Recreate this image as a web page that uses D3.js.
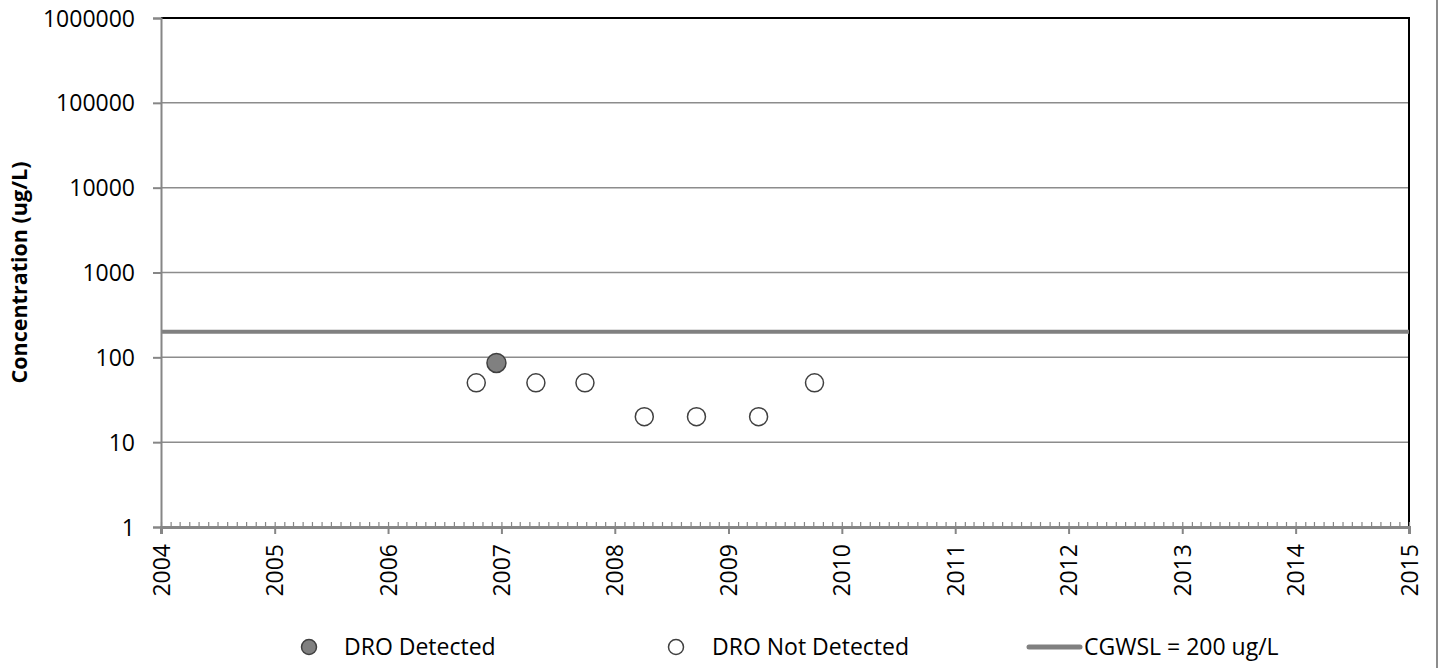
<!DOCTYPE html>
<html>
<head>
<meta charset="utf-8">
<script src="https://d3js.org/d3.v7.min.js"></script>
<style>
  body { margin: 0; background: #fff; }
  text { font-family: "Open Sans", sans-serif; fill: #000; }
</style>
</head>
<body>
<div id="chart"></div>
<script>
// DRO concentration chart

// Data
var detectedDates = ["2006-12-16"];
var detectedValues = [86];
var notDetectedDates = ["2006-10-12", "2007-04-22", "2007-09-27", "2008-04-05", "2008-09-20", "2009-04-08", "2009-10-05"];
var notDetectedValues = [50, 50, 50, 20, 20, 20, 50];
var cgwslValue = 200;
var yTickValues = [1, 10, 100, 1000, 10000, 100000, 1000000];
var legendLabels = ["DRO Detected", "DRO Not Detected", "CGWSL = 200 ug/L"];

var svgWidth = 1441;
var svgHeight = 668;

var margin = { top: 18, right: 32, bottom: 141, left: 161 };
var width = svgWidth - margin.left - margin.right;
var height = svgHeight - margin.top - margin.bottom;

var parseDate = d3.timeParse("%Y-%m-%d");

var svg = d3.select("#chart")
  .append("svg")
  .attr("width", svgWidth)
  .attr("height", svgHeight);

var chartGroup = svg.append("g")
  .attr("transform", `translate(${margin.left}, ${margin.top})`);

var xScale = d3.scaleTime()
  .domain([new Date(2004, 0, 1), new Date(2015, 0, 1)])
  .range([0, width]);

var yScale = d3.scaleLog()
  .domain([1, 1000000])
  .range([height, 0]);

// gridlines
chartGroup.selectAll(".grid")
  .data(yTickValues.slice(1, -1))
  .enter()
  .append("line")
  .attr("x1", 0)
  .attr("x2", width)
  .attr("y1", d => yScale(d))
  .attr("y2", d => yScale(d))
  .attr("stroke", "#8c8c8c")
  .attr("stroke-width", 1.5);

// top and right border
chartGroup.append("path")
  .attr("d", `M0,${yScale(1000000)}H${width}V${height}`)
  .attr("fill", "none")
  .attr("stroke", "#000")
  .attr("stroke-width", 2);

// CGWSL line
chartGroup.append("line")
  .attr("x1", 0)
  .attr("x2", width)
  .attr("y1", yScale(cgwslValue))
  .attr("y2", yScale(cgwslValue))
  .attr("stroke", "#808080")
  .attr("stroke-width", 4);

// Y axis
var leftAxis = d3.axisLeft(yScale)
  .tickValues(yTickValues)
  .tickFormat(d3.format("d"))
  .tickSize(8)
  .tickPadding(18);

var yAxisG = chartGroup.append("g").call(leftAxis);
yAxisG.select(".domain").attr("stroke", "#868686").attr("stroke-width", 2);
yAxisG.selectAll(".tick line").attr("stroke", "#868686").attr("stroke-width", 2);
yAxisG.selectAll(".tick text")
  .style("font-size", "23px")
  .attr("dy", "0.35em");

// X axis minor ticks (monthly, inside)
var minorAxis = d3.axisTop(xScale)
  .ticks(d3.timeMonth.every(1))
  .tickSize(5)
  .tickFormat("");

var minorG = chartGroup.append("g")
  .attr("transform", `translate(0, ${height})`)
  .call(minorAxis);
minorG.select(".domain").remove();
minorG.selectAll(".tick line").attr("stroke", "#868686").attr("stroke-width", 1.2);

// X axis major
var bottomAxis = d3.axisBottom(xScale)
  .ticks(d3.timeYear.every(1))
  .tickFormat(d3.timeFormat("%Y"))
  .tickSize(7)
  .tickPadding(10);

var xAxisG = chartGroup.append("g")
  .attr("transform", `translate(0, ${height})`)
  .call(bottomAxis);
xAxisG.select(".domain").attr("stroke", "#868686").attr("stroke-width", 3);
xAxisG.selectAll(".tick line").attr("stroke", "#868686").attr("stroke-width", 2);
xAxisG.selectAll(".tick text")
  .style("font-size", "23px")
  .attr("transform", "rotate(-90)")
  .attr("text-anchor", "end")
  .attr("x", -17)
  .attr("y", 0)
  .attr("dy", "0.35em");

// points
var notDetected = notDetectedDates.map((d, i) => ({ date: parseDate(d), value: notDetectedValues[i] }));
var detected = detectedDates.map((d, i) => ({ date: parseDate(d), value: detectedValues[i] }));

chartGroup.selectAll(".nd")
  .data(notDetected)
  .enter()
  .append("circle")
  .attr("cx", d => xScale(d.date))
  .attr("cy", d => yScale(d.value))
  .attr("r", 9)
  .attr("fill", "#fff")
  .attr("stroke", "#404040")
  .attr("stroke-width", 1.5);

chartGroup.selectAll(".det")
  .data(detected)
  .enter()
  .append("circle")
  .attr("cx", d => xScale(d.date))
  .attr("cy", d => yScale(d.value))
  .attr("r", 9.5)
  .attr("fill", "#808080")
  .attr("stroke", "#404040")
  .attr("stroke-width", 1.5);

// Y axis title
svg.append("text")
  .attr("transform", `translate(27, ${margin.top + height / 2}) rotate(-90)`)
  .attr("text-anchor", "middle")
  .style("font-size", "21.5px")
  .style("font-weight", "bold")
  .text("Concentration (ug/L)");

// Legend
var legendY = 647;
var legend = svg.append("g");

legend.append("circle")
  .attr("cx", 309).attr("cy", legendY).attr("r", 7.5)
  .attr("fill", "#808080").attr("stroke", "#404040").attr("stroke-width", 1.5);
legend.append("text")
  .attr("x", 344).attr("y", legendY).attr("dy", "0.35em")
  .style("font-size", "23px")
  .text(legendLabels[0]);

legend.append("circle")
  .attr("cx", 676).attr("cy", legendY).attr("r", 7.5)
  .attr("fill", "#fff").attr("stroke", "#404040").attr("stroke-width", 1.5);
legend.append("text")
  .attr("x", 712).attr("y", legendY).attr("dy", "0.35em")
  .style("font-size", "23px")
  .text(legendLabels[1]);

legend.append("line")
  .attr("x1", 1029).attr("x2", 1080)
  .attr("y1", legendY).attr("y2", legendY)
  .attr("stroke", "#808080").attr("stroke-width", 5).attr("stroke-linecap", "round");
legend.append("text")
  .attr("x", 1084).attr("y", legendY).attr("dy", "0.35em")
  .style("font-size", "23px")
  .text(legendLabels[2]);

// right page edge
svg.append("line")
  .attr("x1", 1437).attr("x2", 1437)
  .attr("y1", 0).attr("y2", svgHeight)
  .attr("stroke", "#8c8c8c").attr("stroke-width", 2);
</script>
</body>
</html>
